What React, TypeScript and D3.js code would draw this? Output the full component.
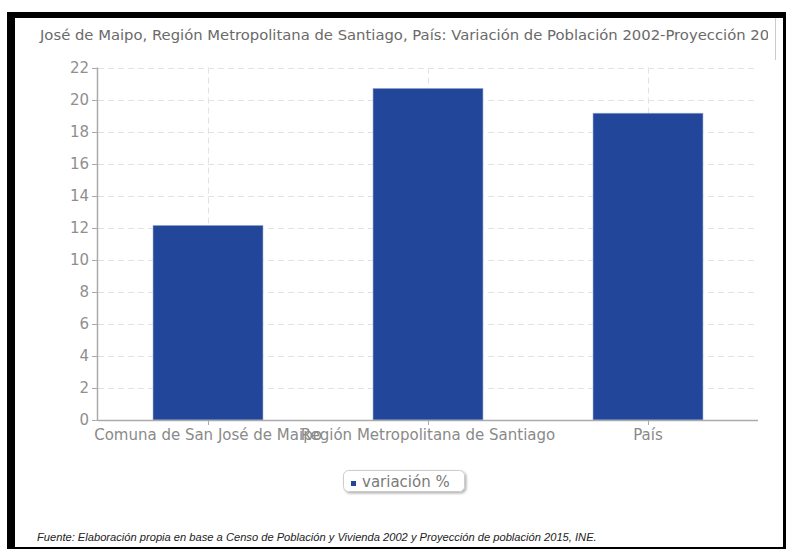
import React from "react";
import * as d3 from "d3";

const categories = ["Comuna de San José de Maipo", "Región Metropolitana de Santiago", "País"];
const values = [12.15, 20.7, 19.15];
const yTicks = [0, 2, 4, 6, 8, 10, 12, 14, 16, 18, 20, 22];
const seriesName = "variación %";
const title = "José de Maipo, Región Metropolitana de Santiago, País: Variación de Población 2002-Proyección 2015";
const footer = "Fuente: Elaboración propia en base a Censo de Población y Vivienda 2002 y Proyección de población 2015, INE.";

const W = 786, H = 549;
const plot = { left: 98, right: 758, top: 67.5, bottom: 420 };
const barColor = "#21469a";
const font = "DejaVu Sans, Verdana, sans-serif";

export default function App() {
  const x = d3.scaleBand<string>().domain(categories).range([plot.left, plot.right]).paddingInner(0.5).paddingOuter(0.25);
  const xc = d3.scalePoint<string>().domain(categories).range([plot.left, plot.right]).padding(0.5);
  const y = d3.scaleLinear().domain([0, 22]).range([plot.bottom, plot.top]);

  return (
    <svg width={W} height={H} style={{ position: "absolute", left: 0, top: 0, background: "#fff" }}>
      <defs>
        <clipPath id="tclip"><rect x={15} y={18} width={753} height={40} /></clipPath>
        <filter id="shadow" x="-10%" y="-20%" width="130%" height="160%">
          <feDropShadow dx="1.5" dy="1.5" stdDeviation="1" floodColor="#000" floodOpacity="0.3" />
        </filter>
      </defs>
      {/* frame */}
      <rect x={7} y={12} width={W - 7} height={H - 12} fill="#000" />
      <rect x={15} y={18} width={768} height={529} fill="#fff" />
      <line x1={775.5} x2={775.5} y1={18} y2={60} stroke="#ccc" />

      {/* title */}
      <text x={40} y={40} fontFamily={font} fontSize={14.8} fill="#6a6a6a" clipPath="url(#tclip)">{title}</text>

      {/* horizontal grid */}
      {yTicks.filter(t => t > 0).map(t => (
        <line key={"g" + t} x1={plot.left} x2={plot.right} y1={Math.round(y(t)) + 0.5} y2={Math.round(y(t)) + 0.5}
          stroke="#e2e2e2" strokeDasharray="6,4" />
      ))}
      {/* vertical grid */}
      {categories.map(c => (
        <line key={"v" + c} x1={Math.round(xc(c)!) + 0.5} x2={Math.round(xc(c)!) + 0.5} y1={plot.top} y2={plot.bottom}
          stroke="#e2e2e2" strokeDasharray="6,4" />
      ))}

      {/* bars */}
      {categories.map((c, i) => (
        <rect key={"b" + c} x={x(c)!} y={y(values[i])} width={x.bandwidth()} height={plot.bottom - y(values[i])}
          fill={barColor} stroke="#aab6d6" strokeWidth={0.6} />
      ))}

      {/* y axis */}
      <line x1={plot.left - 0.5} x2={plot.left - 0.5} y1={plot.top} y2={plot.bottom} stroke="#aaa" strokeWidth={1.5} />
      {yTicks.map(t => (
        <g key={"yt" + t}>
          <line x1={plot.left - 6} x2={plot.left} y1={Math.round(y(t)) + 0.5} y2={Math.round(y(t)) + 0.5} stroke="#aaa" />
          <text x={plot.left - 9} y={y(t) + 5} textAnchor="end" fontFamily={font} fontSize={15} fill="#8f8f8f">{t}</text>
        </g>
      ))}

      {/* x axis */}
      <line x1={plot.left} x2={plot.right} y1={plot.bottom + 0.5} y2={plot.bottom + 0.5} stroke="#aaa" strokeWidth={1.5} />
      {categories.map(c => (
        <g key={"xt" + c}>
          <line x1={Math.round(xc(c)!) + 0.5} x2={Math.round(xc(c)!) + 0.5} y1={plot.bottom} y2={plot.bottom + 5} stroke="#aaa" />
          <text x={xc(c)!} y={plot.bottom + 20} textAnchor="middle" fontFamily={font} fontSize={15} fill="#8a8a8a">{c}</text>
        </g>
      ))}

      {/* legend */}
      <rect x={343.5} y={470.5} width={121} height={21} rx={5} fill="#fff" stroke="#ccc" filter="url(#shadow)" />
      <rect x={351} y={481} width={5} height={5} fill={barColor} />
      <text x={362} y={487} fontFamily={font} fontSize={15} fill="#7a7a7a">{seriesName}</text>

      {/* footer */}
      <text x={37} y={541} fontFamily="Liberation Sans, Arial, sans-serif" fontStyle="italic" fontSize={11.15} fill="#222">{footer}</text>
    </svg>
  );
}
